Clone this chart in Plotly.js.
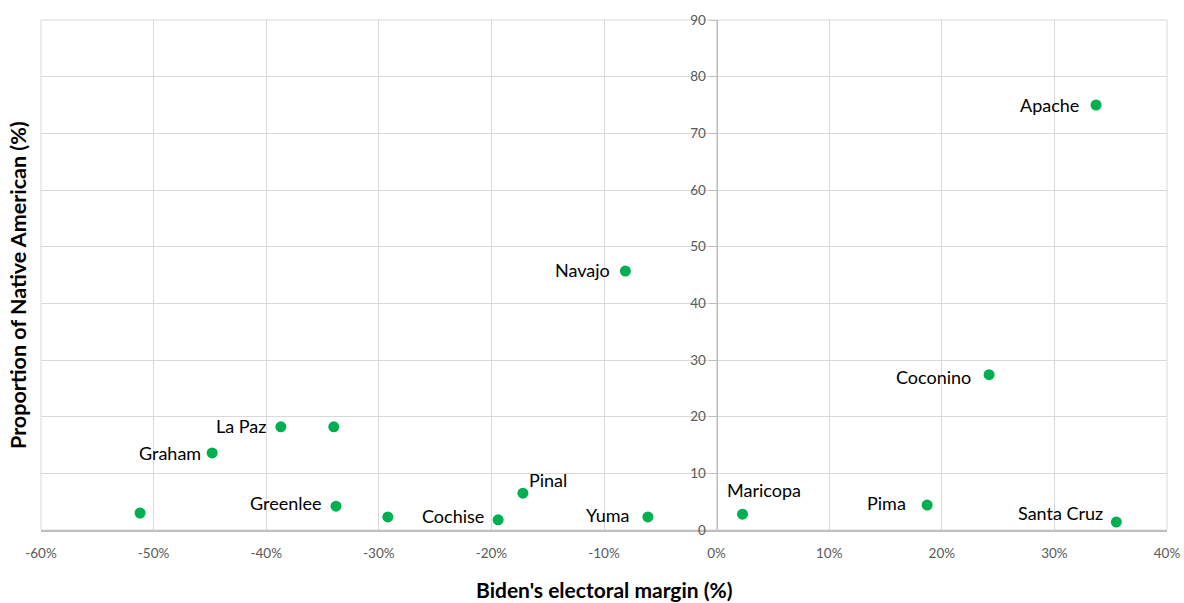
<!DOCTYPE html>
<html>
<head>
<meta charset="utf-8">
<script src="https://cdn.plot.ly/plotly-3.0.1.min.js"></script>
<style>html,body{margin:0;padding:0;background:#fff;}#chart{width:1184px;height:603px;}</style>
</head>
<body>
<div id="chart"></div>
<script>
const counties = ["Apache","Navajo","Coconino","La Paz","","Graham","","Greenlee","","Cochise","Pinal","Yuma","Maricopa","Pima","Santa Cruz"];
const bidenMargin = [33.7,-8.1,24.2,-38.7,-34.0,-44.8,-51.2,-33.8,-29.2,-19.4,-17.2,-6.1,2.3,18.7,35.5];
const nativeShare = [75.0,45.7,27.4,18.2,18.2,13.6,3.0,4.2,2.3,1.8,6.5,2.3,2.8,4.4,1.4];
const xTickVals = [-60,-50,-40,-30,-20,-10,0,10,20,30,40];
const xTickText = ["-60%","-50%","-40%","-30%","-20%","-10%","0%","10%","20%","30%","40%"];
const yTickVals = [0,10,20,30,40,50,60,70,80,90];

// label placement styles: [xanchor, xshift(px), yshift(px)]
const labelStyle = [
  ["right",-15,0],["right",-13,1],["right",-16,-2],["right",-13,1],["right",0,0],
  ["right",-9,0],["right",0,0],["right",-12,3],["right",0,0],["right",-12,4],
  ["left",4,13],["right",-16,2],["left",-18,24],["right",-19,2],["right",-11,9]
];

const labelFont = {family: "Lato, 'Open Sans', sans-serif", size: 18, color: "#000"};

const labelAnnotations = counties.map((name, i) => ({
  text: name, x: bidenMargin[i], y: nativeShare[i], xref: "x", yref: "y",
  xanchor: labelStyle[i][0], yanchor: "middle",
  xshift: labelStyle[i][1], yshift: labelStyle[i][2],
  showarrow: false, font: labelFont
})).filter(a => a.text !== "");

const trace = {
  x: bidenMargin, y: nativeShare,
  mode: "markers", type: "scatter",
  marker: {color: "#00b050", size: 11},
  cliponaxis: false, hoverinfo: "none"
};

const layout = {
  width: 1184, height: 603,
  margin: {l: 41, r: 17, t: 20, b: 73},
  paper_bgcolor: "#fff", plot_bgcolor: "#fff",
  showlegend: false,
  xaxis: {
    range: [-60, 40], tickvals: xTickVals, ticktext: xTickText,
    showgrid: true, gridcolor: "#d9d9d9", gridwidth: 1,
    zeroline: false, showline: true, linecolor: "#bfbfbf", linewidth: 1.5,
    ticks: "", ticklabelstandoff: 10,
    tickfont: {family: "Lato, sans-serif", size: 13.5, color: "#595959"}
  },
  yaxis: {
    range: [0, 90], tickvals: yTickVals,
    anchor: "free", position: 0.6,
    showgrid: true, gridcolor: "#d9d9d9", gridwidth: 1,
    zeroline: false, showline: true, linecolor: "#bfbfbf", linewidth: 1.5,
    ticks: "outside", ticklen: 8, tickcolor: "#bfbfbf",
    tickfont: {family: "Lato, sans-serif", size: 13.5, color: "#595959"}
  },
  shapes: [
    {type: "rect", xref: "paper", yref: "paper", x0: 0, x1: 1, y0: 0, y1: 1,
     line: {color: "#d9d9d9", width: 1}, layer: "below"}
  ],
  annotations: labelAnnotations.concat([
    {text: "<b>Biden's electoral margin (%)</b>", xref: "paper", yref: "paper",
     x: 0.5, y: 0, yshift: -59, xanchor: "center", yanchor: "middle", showarrow: false,
     font: {family: "Lato, sans-serif", size: 21, color: "#000"}},
    {text: "<b>Proportion of Native American (%)</b>", xref: "paper", yref: "paper",
     x: 0, xshift: -23, y: 0.5, yshift: -10, xanchor: "center", yanchor: "middle", textangle: -90, showarrow: false,
     font: {family: "Lato, sans-serif", size: 21.5, color: "#000"}}
  ])
};

Plotly.newPlot("chart", [trace], layout, {staticPlot: true, displayModeBar: false});
</script>
</body>
</html>
